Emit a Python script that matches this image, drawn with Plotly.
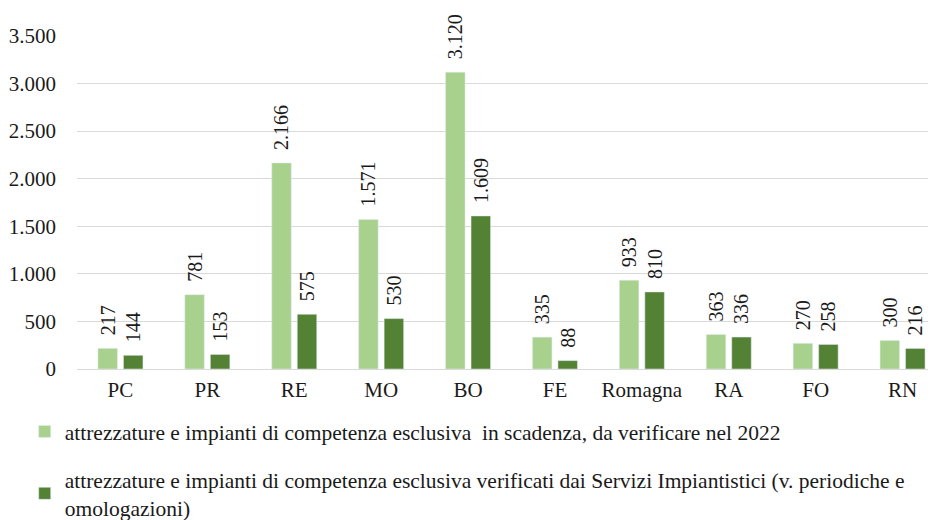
import plotly.graph_objects as go

# Dati
province = ["PC", "PR", "RE", "MO", "BO", "FE", "Romagna", "RA", "FO", "RN"]
in_scadenza = [217, 781, 2166, 1571, 3120, 335, 933, 363, 270, 300]
verificati = [144, 153, 575, 530, 1609, 88, 810, 336, 258, 216]

nome_1 = "attrezzature e impianti di competenza esclusiva  in scadenza, da verificare nel 2022"
nome_2 = ("attrezzature e impianti di competenza esclusiva verificati dai Servizi Impiantistici (v. periodiche e"
          "<br>omologazioni)")

colors = {'chiaro': '#A9D18E', 'scuro': '#548235', 'testo': '#1a1a1a', 'griglia': '#D9D9D9'}
font_serif = "Liberation Serif"

# etichette sopra le barre (ruotate), con un piccolo distacco
etichetta = "\u00a0\u00a0%{y:,d}"
font_etichette = dict(family=font_serif, size=20, color=colors['testo'])

fig = go.Figure()
fig.add_trace(go.Bar(x=province, y=in_scadenza, name=nome_1, marker_color=colors['chiaro'],
                     texttemplate=etichetta, textposition="outside", textangle=-90,
                     textfont=font_etichette, outsidetextfont=font_etichette,
                     constraintext="none", legendgroup="a", cliponaxis=False))
fig.add_trace(go.Bar(x=province, y=verificati, name=nome_2, marker_color=colors['scuro'],
                     texttemplate=etichetta, textposition="outside", textangle=-90,
                     textfont=font_etichette, outsidetextfont=font_etichette,
                     constraintext="none", legendgroup="b", cliponaxis=False))

fig.update_layout(
    width=928, height=512,
    margin=dict(l=69, r=0, t=28, b=151, autoexpand=False),
    paper_bgcolor="white", plot_bgcolor="white",
    separators=",.",
    barmode="group", bargap=0.413, bargroupgap=0.235,
    font=dict(family=font_serif, size=21, color=colors['testo']),
    legend=dict(xref="container", yref="container", x=0.018, y=0.213,
                xanchor="left", yanchor="top", orientation="v",
                font=dict(family=font_serif, size=21.5), tracegroupgap=17, itemwidth=30),
    showlegend=True,
)
fig.update_xaxes(showgrid=False, showline=False, ticks="", tickfont=dict(size=21), tickangle=0,
                 range=[-0.5, 9.385], ticklabelstandoff=6)
fig.update_yaxes(range=[0, 3500], dtick=500, tickformat=",d", showgrid=True,
                 gridcolor=colors['griglia'], gridwidth=1, zeroline=True,
                 zerolinecolor=colors['griglia'], zerolinewidth=1, ticks="",
                 ticklabelstandoff=20, tickfont=dict(size=21))

# titolo tagliato in alto
fig.add_annotation(text="nel 2022", xref="paper", yref="paper", x=0, xanchor="right",
                   xshift=6, y=1.104, yanchor="middle", showarrow=False,
                   font=dict(family=font_serif, size=21))

fig.write_html("out.html")
